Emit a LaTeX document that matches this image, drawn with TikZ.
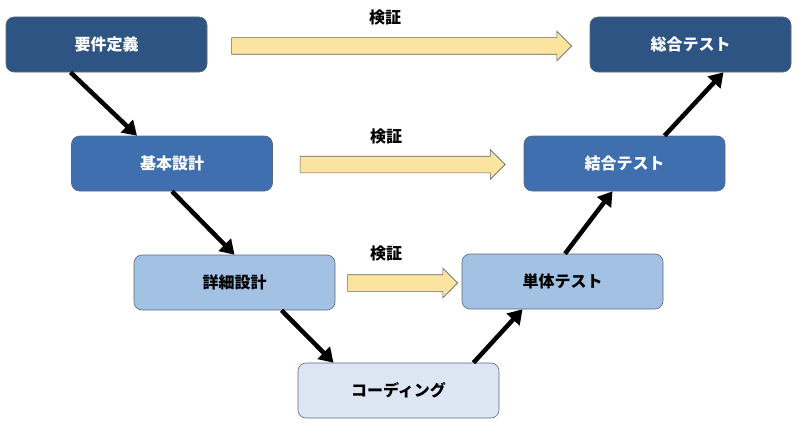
\documentclass[tikz,border=0pt]{standalone}
\usepackage{fontspec}
\setmainfont{Noto Sans CJK JP}
\usetikzlibrary{arrows.meta,positioning,shapes.arrows}
\definecolor{DeepBlue}{HTML}{2E5484}
\definecolor{MidBlue}{HTML}{3F6FAE}
\definecolor{SkyBlue}{HTML}{A3C1E3}
\definecolor{MistBlue}{HTML}{DCE7F3}
\definecolor{Cream}{HTML}{FBE3A0}
\definecolor{Edge}{HTML}{5A6A7C}

\begin{document}
\begin{tikzpicture}[x=1pt, y=-1pt, font=\bfseries\fontsize{16}{19}\selectfont, >=Triangle]
\tikzset{box/.style={draw=Edge, line width=0.6pt, rounded corners=8pt, minimum width=201pt, minimum height=55pt, align=center}, dark/.style={box,fill=DeepBlue,text=white}, mid/.style={box,fill=MidBlue,text=white}, light/.style={box,fill=SkyBlue}, pale/.style={box,fill=MistBlue}, flow/.style={-{Triangle[length=14pt,width=17pt]}, line width=4.5pt, black}, check/.style={single arrow, draw=gray!80!black, fill=Cream, line width=0.6pt, inner xsep=0pt, inner ysep=8pt, single arrow head extend=6.5pt, single arrow head indent=0pt}}
\useasboundingbox (0,0) rectangle (800,444);
\node[dark] (req) at (106.5,44.5) {要件定義};
\node[mid] (basic) at (172,163.5) {基本設計};
\node[light] (detail) at (234.5,282.5) {詳細設計};
\node[pale] (code) at (398.5,390.5) {コーディング};
\node[light] (unit) at (562.5,281.5) {単体テスト};
\node[mid] (integ) at (624.5,163.5) {結合テスト};
\node[dark] (total) at (690.5,44.5) {総合テスト};
\node[check, minimum height=340pt] (v1) at (397.5,46) {};
\node[check, minimum height=205pt] (v2) at (398.5,164.5) {};
\node[check, minimum height=110pt] (v3) at (398.5,283) {};
\node (l1) at (385,17) {検証};
\node (l2) at (386,136) {検証};
\node (l3) at (386,253) {検証};
\foreach \a/\sa/\b/\sb in {req/-36/basic/-35,basic/0/detail/0,detail/47/code/-65} \draw[flow] ([xshift=\sa pt]\a.south) -- ([xshift=\sb pt]\b.north);
\foreach \a/\sa/\b/\sb in {code/75/unit/-40,unit/2.5/integ/-12,integ/40/total/33} \draw[flow] ([xshift=\sa pt]\a.north) -- ([xshift=\sb pt]\b.south);
\end{tikzpicture}
\end{document}
